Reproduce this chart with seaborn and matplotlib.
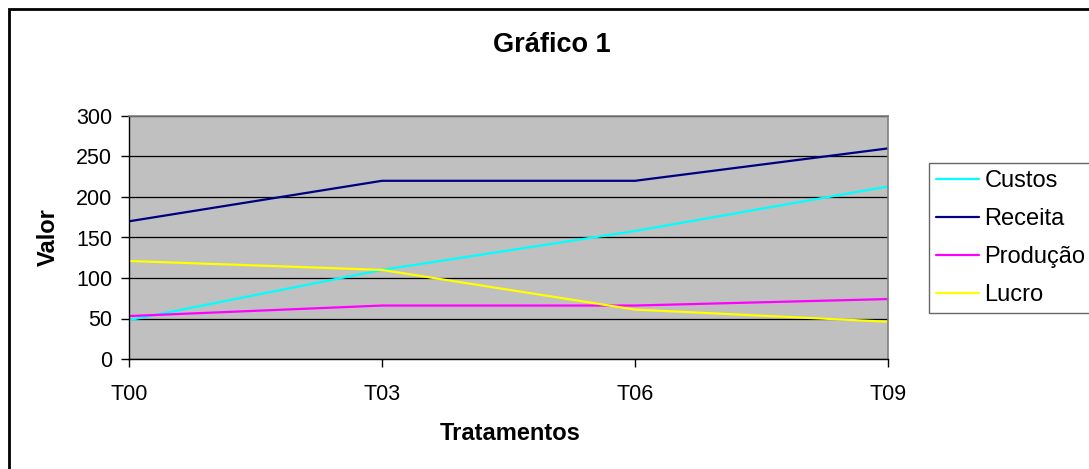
import matplotlib
matplotlib.use("Agg")
import matplotlib.pyplot as plt
import matplotlib.patches as mpatches
import seaborn as sns
import pandas as pd

# Data
tratamentos = ["T00", "T03", "T06", "T09"]
custos = [48, 110, 158, 213]
receita = [170, 220, 220, 260]
producao = [53, 66, 66, 74]
lucro = [121, 110, 61, 46]

series_names = ["Custos", "Receita", "Produção", "Lucro"]
series_values = [custos, receita, producao, lucro]
colors = ["#00FFFF", "#000080", "#FF00FF", "#FFFF00"]

df = pd.DataFrame(
    [(t, name, v) for name, vals in zip(series_names, series_values)
     for t, v in zip(tratamentos, vals)],
    columns=["Tratamentos", "Série", "Valor"],
)

sns.set_style("white")
plt.rcParams["font.family"] = ["Liberation Sans", "DejaVu Sans"]
plt.rcParams.update({
    "text.color": "black", "axes.labelcolor": "black",
    "xtick.color": "black", "ytick.color": "black",
})

W, H = 1089, 469
fig = plt.figure(figsize=(W / 100, H / 100), dpi=100)
ax = fig.add_axes([129 / W, 1 - 359 / H, (888 - 129) / W, (359 - 116) / H])
ax.set_facecolor("#C0C0C0")

sns.lineplot(
    data=df, x="Tratamentos", y="Valor", hue="Série",
    hue_order=series_names, palette=colors, linewidth=1.6,
    sort=False, ax=ax, legend=True,
)

ax.set_xlim(0, len(tratamentos) - 1)
ax.set_ylim(0, 300)
ax.set_yticks(range(0, 301, 50))
ax.set_xticks(range(len(tratamentos)))
ax.set_xticklabels(tratamentos)
ax.yaxis.grid(True, color="black", linewidth=0.9)
ax.xaxis.grid(False)
ax.set_axisbelow(True)

for side in ["top", "right"]:
    ax.spines[side].set_color("#808080")
    ax.spines[side].set_linewidth(1.2)
for side in ["left", "bottom"]:
    ax.spines[side].set_color("black")
    ax.spines[side].set_linewidth(1.0)

ax.tick_params(axis="both", direction="out", length=6, width=1, color="black",
               labelsize=15.5, labelcolor="black", left=True, bottom=True)
ax.tick_params(axis="y", pad=6)
ax.tick_params(axis="x", pad=12)

ax.set_xlabel("Tratamentos", fontsize=17, fontweight="bold")
ax.set_ylabel("Valor", fontsize=17, fontweight="bold")
ax.xaxis.label.set_va("center")
ax.yaxis.label.set_va("center")
ax.xaxis.set_label_coords((510 - 129) / 759, (359 - 433) / 243)
ax.yaxis.set_label_coords((48 - 129) / 759, (359 - 237) / 243)

leg = ax.legend(
    loc="upper left", bbox_to_anchor=(929 / W, 1 - 163 / H),
    bbox_transform=fig.transFigure, borderaxespad=0, frameon=True,
    fontsize=17, handlelength=1.8, handletextpad=0.25, labelspacing=0.68,
    borderpad=0.3, fancybox=False, title=None,
)
leg.get_frame().set_edgecolor("#404040")
leg.get_frame().set_linewidth(1.0)
for line in leg.get_lines():
    line.set_linewidth(1.6)

fig.text(552 / W, 1 - 45 / H, "Gráfico 1", ha="center", va="center",
         fontsize=19.5, fontweight="bold")

# Outer chart frame
fig.patches.append(mpatches.Rectangle(
    (9 / W, -0.1), 2.0, 1 - 9 / H + 0.1, transform=fig.transFigure,
    fill=False, edgecolor="black", linewidth=2.0))

fig.savefig("out.png", dpi=100, facecolor="white")
